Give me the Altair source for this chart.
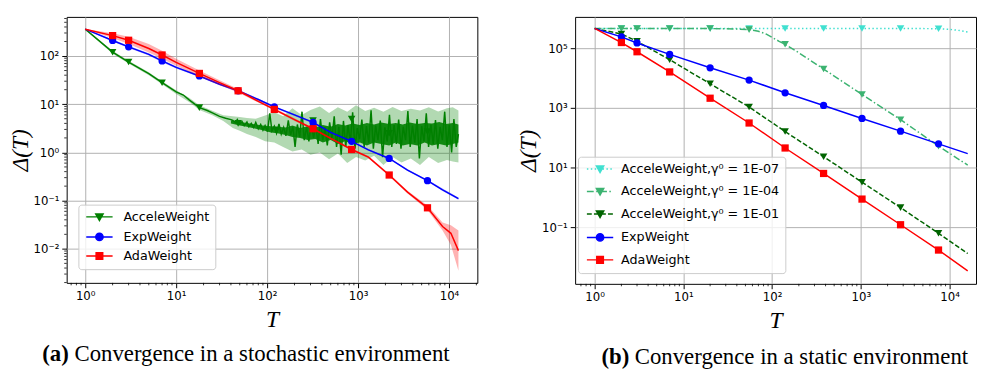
import altair as alt
import pandas as pd
import math

# ================= (a) stochastic environment =================
acc_T = [1, 2, 3, 5, 7, 10, 12, 14, 18, 22, 25, 30, 35, 40,
         42, 45, 47, 50, 53, 56, 60, 63, 67, 71,
         75, 80, 85, 90, 95, 101, 107, 113, 120, 127,
         135, 143, 152, 161, 171, 181, 192, 203, 215, 228,
         242, 256, 272, 288, 305, 324, 343, 364, 386, 409,
         433, 459, 487, 516, 547, 580, 615, 652, 691, 732,
         776, 823, 872, 925, 980, 1039, 1101, 1167, 1237, 1311,
         1390, 1473, 1562, 1655, 1755, 1860, 1972, 2090, 2215, 2348,
         2489, 2638, 2797, 2965, 3142, 3331, 3531, 3743, 3967, 4205,
         4458, 4725, 5009, 5309, 5628, 5965, 6323, 6703, 7105, 7531,
         7983, 8462, 8970, 9508, 10078, 10683, 11324, 12003, 12700]
acc_y = [360, 120, 75, 43, 28, 18, 15.5, 12.2, 8.5, 7.4, 6.6, 5.6, 5.1, 4.8,
         4.6, 4.1, 4.8, 3.9, 4.4, 3.6, 4.3, 3.4, 4.0, 3.3,
         4.2, 3.1, 3.8, 2.9, 3.6, 2.7, 6.5, 2.8, 3.5, 2.5,
         3.9, 2.4, 3.3, 2.2, 4.6, 2.3, 3.4, 1.3, 3.8, 2.1,
         7.0, 1.8, 3.4, 1.7, 4.4, 2.0, 3.6, 1.5, 4.9, 1.8,
         3.3, 1.4, 4.2, 2.0, 5.6, 1.3, 3.4, 0.9, 4.5, 1.3,
         3.7, 1.6, 6.8, 1.2, 3.2, 1.9, 4.8, 1.3, 3.5, 1.6,
         7.5, 1.2, 3.6, 1.8, 4.6, 0.8, 3.3, 1.7, 6.0, 1.3,
         3.7, 1.5, 4.8, 1.2, 3.4, 1.8, 7.2, 1.3, 3.6, 1.6,
         4.9, 0.75, 3.5, 1.7, 6.5, 1.3, 3.8, 1.5, 4.7, 1.2,
         3.4, 1.8, 7.0, 1.3, 3.7, 1.0, 4.9, 1.3, 2.4]
acc_band_T = [1, 2, 3, 5, 7, 10, 14, 18, 25, 33, 42, 50, 60, 75, 95, 120, 150, 190,
              240, 300, 380, 480, 600, 760, 950, 1200, 1500, 1900, 2400, 3000,
              3800, 4800, 6000, 7600, 9500, 11000, 12700]
acc_band_hi = [365, 128, 80, 46, 30, 19.5, 13.5, 9.5, 7.3, 5.9, 5.6, 5.4, 5.2, 5.0,
               5.8, 6.8, 5.6, 8.2, 6.0, 7.6, 9.0, 6.6, 8.6, 7.0, 9.5, 7.2, 8.4,
               7.0, 8.8, 7.2, 8.1, 7.4, 8.7, 7.1, 8.2, 8.6, 7.4]
acc_band_lo = [355, 112, 70, 40, 26, 16.3, 11, 7.6, 5.9, 4.5, 3.2, 2.8, 2.4, 2.1,
               1.7, 1.6, 1.3, 1.05, 1.15, 0.9, 1.0, 0.72, 0.95, 0.6, 0.8, 0.68,
               0.85, 0.55, 0.8, 0.62, 0.75, 0.55, 0.8, 0.6, 0.7, 0.65, 0.62]
acc_core_T = [40, 50, 60, 75, 90, 110, 130, 160, 190, 230, 280, 340, 410, 500, 600,
              720, 870, 1050, 1250, 1500, 1800, 2200, 2600, 3100, 3700, 4500, 5400,
              6500, 7800, 9300, 11000, 12700]
acc_core_lo = [4.0, 3.6, 3.4, 3.1, 2.9, 2.6, 2.5, 2.3, 2.1, 2.0, 1.8, 1.9, 1.6, 1.8,
               1.5, 1.7, 1.5, 1.6, 1.4, 1.6, 1.5, 1.4, 1.6, 1.4, 1.5, 1.4, 1.6, 1.4,
               1.5, 1.4, 1.5, 1.6]
acc_core_hi = [4.6, 4.3, 4.1, 3.8, 3.6, 3.5, 3.4, 3.3, 3.6, 3.2, 3.5, 3.3, 3.7, 3.4,
               3.9, 3.6, 4.0, 3.7, 4.1, 3.8, 4.2, 3.9, 4.1, 3.8, 4.2, 3.9, 4.1, 4.0,
               4.3, 3.9, 4.1, 3.8]
acc_mark_T = [2, 3, 7, 18, 48, 127, 320, 850, 2200, 5800]
acc_mark_y = [120, 75, 28, 8.5, 4.0, 2.9, 4.6, 4.9, 2.5, 2.7]

exp_T = [1, 2, 3, 5, 7, 10, 18, 30, 48, 80, 120, 200, 320, 500, 850, 1300, 2200,
         3500, 5800, 8500, 12700]
exp_y = [360, 210, 155, 108, 79, 58, 38.5, 26, 19, 12.5, 8.8, 6.0, 4.2, 2.6, 1.7,
         1.13, 0.75, 0.43, 0.26, 0.168, 0.11]
exp_lo = [355, 200, 147, 102, 74, 55, 36.5, 24.7, 18, 11.9, 8.4, 5.7, 4.0, 2.48,
          1.63, 1.08, 0.72, 0.41, 0.248, 0.158, 0.104]
exp_hi = [365, 220, 163, 114, 84, 61, 40.5, 27.3, 20, 13.1, 9.2, 6.3, 4.4, 2.72,
          1.77, 1.18, 0.78, 0.45, 0.272, 0.178, 0.116]
exp_mark_T = [2, 3, 7, 18, 48, 120, 320, 850, 2200, 5800]
exp_mark_y = [210, 155, 79, 38.5, 19, 8.8, 4.2, 1.7, 0.75, 0.26]

ada_T = [1, 2, 3, 5, 7, 10, 18, 30, 48, 80, 120, 200, 320, 500, 850, 1300, 2200,
         3500, 5800, 8500, 10500, 12700]
ada_y = [360, 265, 212, 143, 105, 74, 43.5, 28, 19, 11.5, 7.8, 4.8, 3.1, 1.95,
         1.15, 0.8, 0.34, 0.15, 0.071, 0.029, 0.021, 0.0092]
ada_lo = [355, 235, 178, 118, 88, 63, 38, 25, 17.5, 10.8, 7.4, 4.5, 2.95, 1.87,
          1.1, 0.76, 0.32, 0.14, 0.064, 0.024, 0.012, 0.0035]
ada_hi = [365, 295, 250, 178, 128, 88, 50, 31.5, 20.8, 12.3, 8.3, 5.1, 3.25, 2.05,
          1.2, 0.84, 0.36, 0.16, 0.079, 0.035, 0.031, 0.024]
ada_mark_T = [2, 3, 7, 18, 48, 120, 320, 850, 2200, 5800]
ada_mark_y = [265, 212, 105, 43.5, 19, 7.8, 3.1, 1.15, 0.34, 0.071]

left_names = ["AcceleWeight", "ExpWeight", "AdaWeight"]
left_colors = ["#008000", "#0000ff", "#ff0000"]

# ================= (b) static environment =================
g07_T = [1, 2, 3, 7, 20, 55, 140, 380, 1030, 2800, 7500, 10000, 13000, 16000]
g07_y = [4.6e5, 4.6e5, 4.6e5, 4.6e5, 4.6e5, 4.6e5, 4.6e5, 4.6e5, 4.6e5, 4.6e5,
         4.5e5, 4.3e5, 3.9e5, 3.5e5]
g04_T = [1, 2, 3, 7, 20, 40, 55, 70, 85, 100, 120, 140, 200, 380, 1030, 2800, 7500, 16000]
g04_y = [4.6e5, 4.6e5, 4.6e5, 4.6e5, 4.55e5, 4.4e5, 4.2e5, 3.7e5, 3.0e5, 2.3e5,
         1.7e5, 1.35e5, 7e4, 2e4, 2.8e3, 4.0e2, 52, 12]
g01_T = [1, 2, 3, 7, 20, 55, 140, 380, 1030, 2800, 7500, 16000]
g01_y = [4.6e5, 3.0e5, 1.7e5, 4.1e4, 6.4e3, 1.07e3, 160, 23, 3.2, 0.45, 0.062, 0.013]
sexp_T = [1, 2, 3, 7, 20, 55, 140, 380, 1030, 2800, 7500, 16000]
sexp_y = [4.6e5, 2.4e5, 1.5e5, 6.2e4, 2.2e4, 8.5e3, 3.2e3, 1.2e3, 440, 165, 62, 29]
sada_T = [1, 2, 3, 7, 20, 55, 140, 380, 1030, 2800, 7500, 16000]
sada_y = [4.6e5, 1.55e5, 7.6e4, 1.6e4, 2.1e3, 310, 45, 6.3, 0.87, 0.12, 0.017, 0.0034]
r_mark_T = [2, 3, 7, 20, 55, 140, 380, 1030, 2800, 7500]
g07_mark_y = [4.6e5, 4.6e5, 4.6e5, 4.6e5, 4.6e5, 4.6e5, 4.6e5, 4.6e5, 4.6e5, 4.5e5]
g04_mark_y = [4.6e5, 4.6e5, 4.6e5, 4.55e5, 4.2e5, 1.35e5, 2e4, 2.8e3, 4.0e2, 52]
g01_mark_y = [3.0e5, 1.7e5, 4.1e4, 6.4e3, 1.07e3, 160, 23, 3.2, 0.45, 0.062]
sexp_mark_y = [2.4e5, 1.5e5, 6.2e4, 2.2e4, 8.5e3, 3.2e3, 1.2e3, 440, 165, 62]
sada_mark_y = [1.55e5, 7.6e4, 1.6e4, 2.1e3, 310, 45, 6.3, 0.87, 0.12, 0.017]

right_names = ["AcceleWeight,γ⁰ = 1E-07", "AcceleWeight,γ⁰ = 1E-04",
               "AcceleWeight,γ⁰ = 1E-01", "ExpWeight", "AdaWeight"]
right_colors = ["#40e0d0", "#3cb371", "#006400", "#0000ff", "#ff0000"]

# ================= styling helpers =================
SUP = {-3: "⁻³", -2: "⁻²", -1: "⁻¹", 0: "⁰", 1: "¹", 2: "²", 3: "³", 4: "⁴", 5: "⁵", 6: "⁶"}
E = "round(log(datum.value)/LN10)"
LABEL_EXPR = "'10' + (" + " : ".join(f"{E} == {k} ? '{v}'" for k, v in SUP.items()) + " : '')"

DOTTED = [1.5, 2.5]
DASHDOT = [7, 2.5, 1.5, 2.5]
DASHED = [5, 2.2]


def majors(lo, hi):
    return [10.0 ** e for e in range(-4, 8) if lo <= 10.0 ** e <= hi]


def minors(lo, hi):
    return [k * 10.0 ** e for e in range(-4, 8) for k in range(2, 10)
            if lo <= k * 10.0 ** e <= hi]


def axis(values, title, pad):
    return alt.Axis(
        values=values, title=title, labelExpr=LABEL_EXPR,
        tickSize=5, grid=True, gridColor="#b0b0b0", gridWidth=1,
        tickColor="black", tickWidth=1, domain=False,
        labelFont="DejaVu Sans", labelFontSize=12, labelColor="black",
        labelPadding=3, labelFlush=False, labelOverlap=False,
        titleFont="Liberation Serif", titleFontSize=24, titleFontStyle="italic",
        titleFontWeight="normal", titleColor="black", titlePadding=pad)


R = math.sqrt(56) / 2


def hline(half, pattern):
    if not pattern:
        return f"M{-half},0L{half},0 "
    parts, x, i = [], -half, 0
    while x < half - 1e-9:
        seg = pattern[i % len(pattern)] / R
        x2 = min(x + seg, half)
        if i % 2 == 0:
            parts.append(f"M{x:.3f},0L{x2:.3f},0 ")
        x, i = x2, i + 1
    return "".join(parts)


TRI = "M-1,-0.8 L1,-0.8 L0,1 Z"
CIR = "M1,0 A1,1 0 1 1 -1,0 A1,1 0 1 1 1,0 Z"
SQR = "M-0.9,-0.9 L0.9,-0.9 L0.9,0.9 L-0.9,0.9 Z"


def df(T, v):
    return pd.DataFrame({"T": T, "v": v})


def encs(xdom, ydom, yvals):
    xs = alt.Scale(type="log", domain=xdom, nice=False)
    ys = alt.Scale(type="log", domain=ydom, nice=False)
    X = alt.X("T:Q", scale=xs, axis=axis(majors(*xdom), "T", 7))
    Y = alt.Y("v:Q", scale=ys, axis=axis(yvals, "Δ(T)", 1))
    return X, Y


def minor_ticks(X, Y, xdom, ydom, H, with_y):
    out = [alt.Chart(pd.DataFrame({"T": minors(*xdom)})).mark_rule(
        color="black", strokeWidth=0.8).encode(x=X, y=alt.value(H), y2=alt.value(H + 2.5))]
    if with_y:
        out.append(alt.Chart(pd.DataFrame({"v": minors(*ydom)})).mark_rule(
            color="black", strokeWidth=0.8).encode(y=Y, x=alt.value(0), x2=alt.value(-2.5)))
    return out


def line(T, v, color, dash=None):
    kw = dict(color=color, strokeWidth=1.5)
    if dash:
        kw["strokeDash"] = dash
    return alt.Chart(df(T, v)).mark_line(**kw)


def marks(T, v, color, shape, size):
    return alt.Chart(df(T, v)).mark_point(filled=True, shape=shape, size=size,
                                          color=color, opacity=1)


def band(T, lo, hi, color, op):
    return alt.Chart(pd.DataFrame({"T": T, "v": lo, "hi": hi})).mark_area(
        color=color, opacity=op)


def legend_layer(key, names, colors, paths, lx, ly, rowpad, soff, loff, X, Y):
    leg = alt.Legend(orient="none", legendX=lx, legendY=ly, title=None,
                     padding=6, fillColor="rgba(255,255,255,0.8)",
                     strokeColor="#cccccc", cornerRadius=3,
                     labelFont="DejaVu Sans", labelFontSize=13, labelColor="black",
                     labelLimit=400, symbolSize=56, symbolStrokeWidth=1.5,
                     symbolOffset=soff, labelOffset=loff, rowPadding=rowpad)
    d = pd.DataFrame({key: names, "T": [1.0] * len(names), "v": [1.0] * len(names)})
    f = f"{key}:N"
    return alt.Chart(d).transform_filter("datum.T < 0").mark_point(
        filled=True, opacity=1).encode(
        x=X, y=Y,
        fill=alt.Fill(f, scale=alt.Scale(domain=names, range=colors), legend=leg),
        stroke=alt.Stroke(f, scale=alt.Scale(domain=names, range=colors), legend=leg),
        shape=alt.Shape(f, scale=alt.Scale(domain=names, range=paths), legend=leg))


one = pd.DataFrame({"a": [0]})
CAP = 23.3


def caption(tag, text, x_tag, x_text, y):
    t1 = alt.Chart(one).mark_text(text=tag, font="Liberation Serif", fontSize=CAP,
                                  fontWeight="bold", align="left", baseline="alphabetic",
                                  color="black").encode(x=alt.value(x_tag), y=alt.value(y))
    t2 = alt.Chart(one).mark_text(text=text, font="Liberation Serif", fontSize=CAP,
                                  align="left", baseline="alphabetic",
                                  color="black").encode(x=alt.value(x_text), y=alt.value(y))
    return [t1, t2]


# ---------- left panel ----------
LW, LH = 420, 272
lxd, lyd = [0.625, 20500], [0.00197, 647]
X, Y = encs(lxd, lyd, majors(*lyd))
Y2 = alt.Y2("hi:Q")
HL = 3.6
left_paths = [hline(HL, None) + TRI, hline(HL, None) + CIR, hline(HL, None) + SQR]

left_layers = [
    band(acc_band_T, acc_band_lo, acc_band_hi, "#008000", 0.3).encode(x=X, y=Y, y2=Y2),
    band(acc_core_T, acc_core_lo, acc_core_hi, "#008000", 0.9).encode(x=X, y=Y, y2=Y2),
    line(acc_T, acc_y, "#008000").encode(x=X, y=Y),
    marks(acc_mark_T, acc_mark_y, "#008000", "triangle-down", 60).encode(x=X, y=Y),
    band(exp_T, exp_lo, exp_hi, "#0000ff", 0.3).encode(x=X, y=Y, y2=Y2),
    line(exp_T, exp_y, "#0000ff").encode(x=X, y=Y),
    marks(exp_mark_T, exp_mark_y, "#0000ff", "circle", 55).encode(x=X, y=Y),
    band(ada_T, ada_lo, ada_hi, "#ff0000", 0.3).encode(x=X, y=Y, y2=Y2),
    line(ada_T, ada_y, "#ff0000").encode(x=X, y=Y),
    marks(ada_mark_T, ada_mark_y, "#ff0000", "square", 55).encode(x=X, y=Y),
    legend_layer("method_a", left_names, left_colors, left_paths, 12, 192, 5.5, 9, 18, X, Y),
    alt.Chart(one).mark_rule(opacity=0).encode(x=alt.value(0), y=alt.value(-3), y2=alt.value(0)),
] + minor_ticks(X, Y, lxd, lyd, LH, True) + caption(
    "(a)", "Convergence in a stochastic environment", -25, 8, 352)

left = alt.layer(*left_layers).properties(width=LW, height=LH)

# ---------- right panel ----------
RW, RH = 410, 273
rxd, ryd = [0.602, 19850], [0.00125, 1.12e6]
Xr, Yr = encs(rxd, ryd, [0.1, 10, 1000, 1e5])
right_paths = [hline(HL, DOTTED) + TRI, hline(HL, DASHDOT) + TRI, hline(HL, DASHED) + TRI,
               hline(HL, None) + CIR, hline(HL, None) + SQR]

right_layers = [
    line(g07_T, g07_y, "#40e0d0", DOTTED).encode(x=Xr, y=Yr),
    marks(r_mark_T, g07_mark_y, "#40e0d0", "triangle-down", 60).encode(x=Xr, y=Yr),
    line(g04_T, g04_y, "#3cb371", DASHDOT).encode(x=Xr, y=Yr),
    marks(r_mark_T, g04_mark_y, "#3cb371", "triangle-down", 60).encode(x=Xr, y=Yr),
    line(g01_T, g01_y, "#006400", DASHED).encode(x=Xr, y=Yr),
    marks(r_mark_T, g01_mark_y, "#006400", "triangle-down", 60).encode(x=Xr, y=Yr),
    line(sexp_T, sexp_y, "#0000ff").encode(x=Xr, y=Yr),
    marks(r_mark_T, sexp_mark_y, "#0000ff", "circle", 55).encode(x=Xr, y=Yr),
    line(sada_T, sada_y, "#ff0000").encode(x=Xr, y=Yr),
    marks(r_mark_T, sada_mark_y, "#ff0000", "square", 55).encode(x=Xr, y=Yr),
    legend_layer("method_b", right_names, right_colors, right_paths, 3, 143, 9, 10, 15, Xr, Yr),
] + minor_ticks(Xr, Yr, rxd, ryd, RH, False) + caption(
    "(b)", "Convergence in a static environment", 27, 61, 355)

right = alt.layer(*right_layers).properties(width=RW, height=RH)

chart = alt.hconcat(left, right, spacing=39).resolve_scale(
    fill="independent", stroke="independent", shape="independent"
).resolve_legend(
    fill="independent", stroke="independent", shape="independent"
).properties(
    padding={"left": 0, "top": 1, "right": 0, "bottom": -3},
    background="white",
).configure_view(stroke="black", strokeWidth=1)

chart.save("out.html", embed_options={"renderer": "svg", "actions": False})
